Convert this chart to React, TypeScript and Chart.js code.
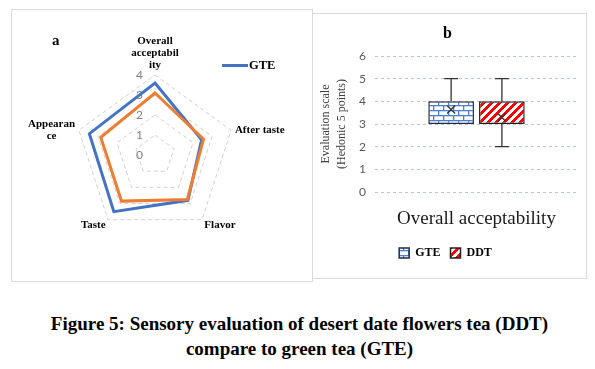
import React, { useEffect, useRef } from 'react';
import { Chart, registerables } from 'chart.js';
Chart.register(...registerables);

// ---- Panel a: radar data ----
const radarCategories: string[][] = [['Overall', 'acceptabil', 'ity'], ['After taste'], ['Flavor'], ['Taste'], ['Appearan', 'ce']];
const radarGTE = [3.6, 2.45, 2.8, 3.5, 3.45];
const radarDDT = [3.1, 2.55, 2.75, 2.85, 2.85];
const radarTicks = [0, 1, 2, 3, 4];

// ---- Panel b: box plot data ----
const boxCategory = ['Overall acceptability'];
const boxSeries = ['GTE', 'DDT'];
const boxQ1 = [3, 3];
const boxQ3 = [4, 4];
const boxMin = [3, 2];
const boxMax = [5, 5];
const boxMean = [3.64, 3.29];
const boxTicks = [0, 1, 2, 3, 4, 5, 6];

const SERIF = "'Liberation Serif', 'Times New Roman', serif";
const SANS = "Lato, 'Liberation Sans', sans-serif";

function brickPattern(ctx: CanvasRenderingContext2D) {
  const c = document.createElement('canvas');
  c.width = 10; c.height = 10;
  const g = c.getContext('2d')!;
  g.fillStyle = '#ffffff'; g.fillRect(0, 0, 10, 10);
  g.fillStyle = '#4f7fd2';
  g.fillRect(0, 0, 10, 1.3); g.fillRect(0, 5, 10, 1.3);
  g.fillRect(0, 0, 1.3, 5); g.fillRect(5, 5, 1.3, 5);
  return ctx.createPattern(c, 'repeat')!;
}

function stripePattern(ctx: CanvasRenderingContext2D) {
  const c = document.createElement('canvas');
  c.width = 8; c.height = 8;
  const g = c.getContext('2d')!;
  g.fillStyle = '#ffffff'; g.fillRect(0, 0, 8, 8);
  g.fillStyle = '#ff0000';
  for (let x = 0; x < 8; x++) for (let y = 0; y < 8; y++) if ((x + y) % 8 < 4) g.fillRect(x, y, 1, 1);
  return ctx.createPattern(c, 'repeat')!;
}

const radarTextPlugin = {
  id: 'radarText',
  beforeDatasetsDraw(chart: any) {
    const s = chart.scales.r;
    const ctx = chart.ctx as CanvasRenderingContext2D;
    ctx.save();
    ctx.font = `12px ${SANS}`;
    ctx.fillStyle = '#808080';
    ctx.textAlign = 'right';
    ctx.textBaseline = 'middle';
    radarTicks.forEach((v) => {
      const d = s.getDistanceFromCenterForValue(v);
      ctx.fillText(String(v), s.xCenter - 12, s.yCenter - d);
    });
    ctx.restore();
  },
  afterDraw(chart: any) {
    const s = chart.scales.r;
    const ctx = chart.ctx as CanvasRenderingContext2D;
    const labels = chart.data.labels as string[][];
    ctx.save();
    ctx.font = `bold 11px ${SERIF}`;
    ctx.fillStyle = '#000';
    ctx.textAlign = 'center';
    ctx.textBaseline = 'middle';
    const lh = 12;
    const r = s.drawingArea;
    labels.forEach((lines, i) => {
      const p = s.getPointPosition(i, r + 4);
      const dx = p.x - s.xCenter;
      const dy = p.y - s.yCenter;
      const w = Math.max(...lines.map((l) => ctx.measureText(l).width));
      const h = lines.length * lh;
      let cx = p.x;
      if (Math.abs(dx) > 1) cx = dx > 0 ? p.x + w / 2 : p.x - w / 2;
      let top: number;
      if (dy < -r * 0.6) top = p.y - h;
      else if (dy > r * 0.6) top = p.y - 4;
      else top = p.y - h / 2 + 1.5;
      lines.forEach((l, k) => ctx.fillText(l, cx, top + lh * k + lh / 2));
    });
    ctx.restore();
  },
};

const boxWhiskerPlugin = {
  id: 'boxWhisker',
  afterDatasetsDraw(chart: any) {
    const y = chart.scales.y;
    const ctx = chart.ctx as CanvasRenderingContext2D;
    ctx.save();
    ctx.strokeStyle = '#333333';
    ctx.lineWidth = 1.3;
    chart.data.datasets.forEach((_ds: any, i: number) => {
      const bar = chart.getDatasetMeta(i).data[0];
      const x = bar.x;
      const yq1 = y.getPixelForValue(boxQ1[i]);
      const yq3 = y.getPixelForValue(boxQ3[i]);
      const ymin = y.getPixelForValue(boxMin[i]);
      const ymax = y.getPixelForValue(boxMax[i]);
      const ym = y.getPixelForValue(boxMean[i]);
      ctx.beginPath();
      if (boxMax[i] > boxQ3[i]) {
        ctx.moveTo(x, yq3); ctx.lineTo(x, ymax);
        ctx.moveTo(x - 7, ymax); ctx.lineTo(x + 7, ymax);
      }
      if (boxMin[i] < boxQ1[i]) {
        ctx.moveTo(x, yq1); ctx.lineTo(x, ymin);
        ctx.moveTo(x - 7, ymin); ctx.lineTo(x + 7, ymin);
      }
      ctx.stroke();
      const m = 4;
      ctx.beginPath();
      ctx.moveTo(x - m, ym - m); ctx.lineTo(x + m, ym + m);
      ctx.moveTo(x - m, ym + m); ctx.lineTo(x + m, ym - m);
      ctx.stroke();
    });
    ctx.restore();
  },
};

export default function App() {
  const radarRef = useRef<HTMLCanvasElement>(null);
  const boxRef = useRef<HTMLCanvasElement>(null);

  useEffect(() => {
    const charts: Chart[] = [];
    if (radarRef.current) {
      charts.push(
        new Chart(radarRef.current, {
          type: 'radar',
          data: {
            labels: radarCategories as any,
            datasets: [
              { label: 'GTE', data: radarGTE, borderColor: '#4472C4', borderWidth: 3, pointRadius: 0, fill: false, tension: 0, order: 1 },
              { label: 'DDT', data: radarDDT, borderColor: '#ED7D31', borderWidth: 3, pointRadius: 0, fill: false, tension: 0, order: 0 },
            ],
          },
          options: {
            responsive: false,
            animation: false,
            layout: { padding: { left: 63, top: 65, right: 76, bottom: 45 } },
            plugins: { legend: { display: false }, tooltip: { enabled: false }, title: { display: false } },
            scales: {
              r: {
                min: 0,
                max: 4,
                ticks: { stepSize: 1, display: false },
                pointLabels: { display: false },
                angleLines: { display: false },
                grid: { color: '#d0d0d0', lineWidth: 1 },
                border: { dash: [4, 3] } as any,
              },
            },
          },
          plugins: [radarTextPlugin],
        } as any)
      );
    }
    if (boxRef.current) {
      const ctx = boxRef.current.getContext('2d')!;
      const bluePat = brickPattern(ctx);
      const redPat = stripePattern(ctx);
      charts.push(
        new Chart(boxRef.current, {
          type: 'bar',
          data: {
            labels: boxCategory,
            datasets: [
              { label: boxSeries[0], data: [[boxQ1[0], boxQ3[0]]], backgroundColor: bluePat, borderColor: '#1f2b45', borderWidth: 1.5, borderSkipped: false },
              { label: boxSeries[1], data: [[boxQ1[1], boxQ3[1]]], backgroundColor: redPat, borderColor: '#222222', borderWidth: 1.5, borderSkipped: false },
            ],
          },
          options: {
            responsive: false,
            animation: false,
            layout: { padding: { left: 0, top: 41, right: 7, bottom: 8 } },
            datasets: { bar: { categoryPercentage: 0.5, barPercentage: 0.9 } },
            plugins: {
              tooltip: { enabled: false },
              title: { display: false },
              legend: {
                position: 'bottom',
                labels: {
                  boxWidth: 10,
                  boxHeight: 10,
                  padding: 10,
                  color: '#000',
                  font: { family: SERIF, size: 12, weight: 'bold' },
                },
              },
            },
            scales: {
              x: {
                grid: { display: false, drawTicks: false },
                border: { display: false },
                ticks: { padding: 16, maxRotation: 0, color: '#1a1a1a', font: { family: SERIF, size: 19 } },
                afterFit: (s: any) => { s.height = 45; },
              },
              y: {
                min: 0,
                max: 6,
                afterBuildTicks: (s: any) => { s.ticks = boxTicks.map((v) => ({ value: v })); },
                ticks: { padding: 9, color: '#595959', font: { family: SANS, size: 12 } },
                grid: { color: '#b7c3da', lineWidth: 1, drawTicks: false },
                border: { display: false, dash: [3, 3] },
                title: {
                  display: true,
                  text: ['Evaluation scale', '(Hedonic 5 points)'],
                  color: '#404040',
                  font: { family: SERIF, size: 12, lineHeight: 16 / 12 },
                  padding: { top: 5, bottom: 0 },
                },
                afterFit: (s: any) => { s.width = 62; },
              },
            },
          },
          plugins: [boxWhiskerPlugin],
        } as any)
      );
    }
    return () => charts.forEach((c) => c.destroy());
  }, []);

  return (
    <div style={{ position: 'absolute', left: 0, top: 0, width: 595, height: 369, background: '#fff', fontFamily: SERIF }}>
      <div style={{ position: 'absolute', left: 11, top: 9, width: 302, height: 273, border: '1px solid #d9d9d9', boxSizing: 'border-box' }} />
      <div style={{ position: 'absolute', left: 312, top: 13, width: 275, height: 266, border: '1px solid #d9d9d9', boxSizing: 'border-box' }} />
      <canvas ref={radarRef} width={299} height={270} style={{ position: 'absolute', left: 12, top: 10, width: 299, height: 270 }} />
      <canvas ref={boxRef} width={272} height={262} style={{ position: 'absolute', left: 313, top: 15, width: 272, height: 262 }} />
      <div style={{ position: 'absolute', left: 52, top: 31, fontWeight: 'bold', fontSize: 15, lineHeight: '18px' }}>a</div>
      <div style={{ position: 'absolute', left: 443, top: 23, fontWeight: 'bold', fontSize: 16, lineHeight: '20px' }}>b</div>
      <div style={{ position: 'absolute', left: 222, top: 64, width: 26, height: 3, background: '#4472C4' }} />
      <div style={{ position: 'absolute', left: 249, top: 58, fontWeight: 'bold', fontSize: 12.5, lineHeight: '15px' }}>GTE</div>
      <div style={{ position: 'absolute', left: 2, top: 311, width: 595, textAlign: 'center', fontWeight: 'bold', fontSize: 19, lineHeight: '25px', color: '#000' }}>
        Figure 5: Sensory evaluation of desert date flowers tea (DDT)
        <br />
        compare to green tea (GTE)
      </div>
    </div>
  );
}
